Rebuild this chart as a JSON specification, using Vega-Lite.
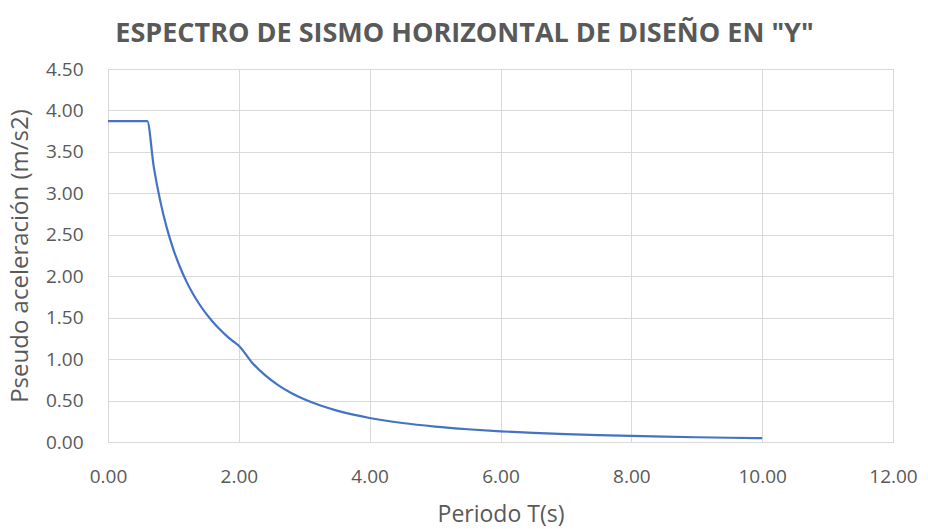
{
  "$schema": "https://vega.github.io/schema/vega-lite/v6.json",
  "width": 785,
  "height": 373,
  "autosize": {"type": "none"},
  "padding": {"left": 108, "top": 69, "right": 35, "bottom": 87},
  "background": "white",
  "title": {
    "text": "ESPECTRO DE SISMO HORIZONTAL DE DISEÑO EN \"Y\"",
    "font": "Open Sans",
    "fontSize": 27,
    "fontWeight": "bold",
    "color": "#595959",
    "anchor": "middle",
    "offset": 12,
    "dx": -36
  },
  "data": {
    "values": [
      {"T": 0.0, "Sa": 3.87}, {"T": 0.1, "Sa": 3.87}, {"T": 0.2, "Sa": 3.87}, {"T": 0.3, "Sa": 3.87},
      {"T": 0.4, "Sa": 3.87}, {"T": 0.5, "Sa": 3.87}, {"T": 0.6, "Sa": 3.87},
      {"T": 0.7, "Sa": 3.317}, {"T": 0.8, "Sa": 2.903}, {"T": 0.9, "Sa": 2.58}, {"T": 1.0, "Sa": 2.322},
      {"T": 1.1, "Sa": 2.111}, {"T": 1.2, "Sa": 1.935}, {"T": 1.3, "Sa": 1.786}, {"T": 1.4, "Sa": 1.659},
      {"T": 1.5, "Sa": 1.548}, {"T": 1.6, "Sa": 1.451}, {"T": 1.7, "Sa": 1.366}, {"T": 1.8, "Sa": 1.29},
      {"T": 1.9, "Sa": 1.222}, {"T": 2.0, "Sa": 1.161}, {"T": 2.2, "Sa": 0.96}, {"T": 2.4, "Sa": 0.806},
      {"T": 2.6, "Sa": 0.687}, {"T": 2.8, "Sa": 0.592}, {"T": 3.0, "Sa": 0.516}, {"T": 3.25, "Sa": 0.44},
      {"T": 3.5, "Sa": 0.379}, {"T": 3.75, "Sa": 0.33}, {"T": 4.0, "Sa": 0.29}, {"T": 4.5, "Sa": 0.229},
      {"T": 5.0, "Sa": 0.186}, {"T": 5.5, "Sa": 0.154}, {"T": 6.0, "Sa": 0.129}, {"T": 6.5, "Sa": 0.11},
      {"T": 7.0, "Sa": 0.095}, {"T": 7.5, "Sa": 0.083}, {"T": 8.0, "Sa": 0.073}, {"T": 8.5, "Sa": 0.064},
      {"T": 9.0, "Sa": 0.057}, {"T": 9.5, "Sa": 0.051}, {"T": 10.0, "Sa": 0.046}
    ]
  },
  "mark": {"type": "line", "color": "#4472C4", "strokeWidth": 2.2, "interpolate": "monotone"},
  "encoding": {
    "x": {
      "field": "T", "type": "quantitative",
      "scale": {"domain": [0, 12], "nice": false},
      "axis": {
        "title": "Periodo T(s)", "values": [0, 2, 4, 6, 8, 10, 12], "format": ".2f",
        "ticks": false, "domain": true, "domainColor": "#d9d9d9",
        "labelFlush": false, "labelOverlap": false,
        "gridColor": "#d9d9d9", "labelColor": "#595959", "labelFontSize": 19,
        "labelFont": "Open Sans", "labelPadding": 25,
        "titleFont": "Open Sans", "titleFontSize": 23, "titleFontWeight": "normal",
        "titleColor": "#595959", "titlePadding": 17
      }
    },
    "y": {
      "field": "Sa", "type": "quantitative",
      "scale": {"domain": [0, 4.5], "nice": false},
      "axis": {
        "title": "Pseudo aceleración (m/s2)", "values": [0, 0.5, 1, 1.5, 2, 2.5, 3, 3.5, 4, 4.5], "format": ".2f",
        "ticks": false, "domain": false, "labelOverlap": false, "labelFlush": false,
        "gridColor": "#d9d9d9", "labelColor": "#595959", "labelFontSize": 19,
        "labelFont": "Open Sans", "labelPadding": 25,
        "titleFont": "Open Sans", "titleFontSize": 24, "titleFontWeight": "normal",
        "titleColor": "#595959", "titlePadding": 13
      }
    }
  },
  "config": {"view": {"stroke": "#d9d9d9"}}
}
